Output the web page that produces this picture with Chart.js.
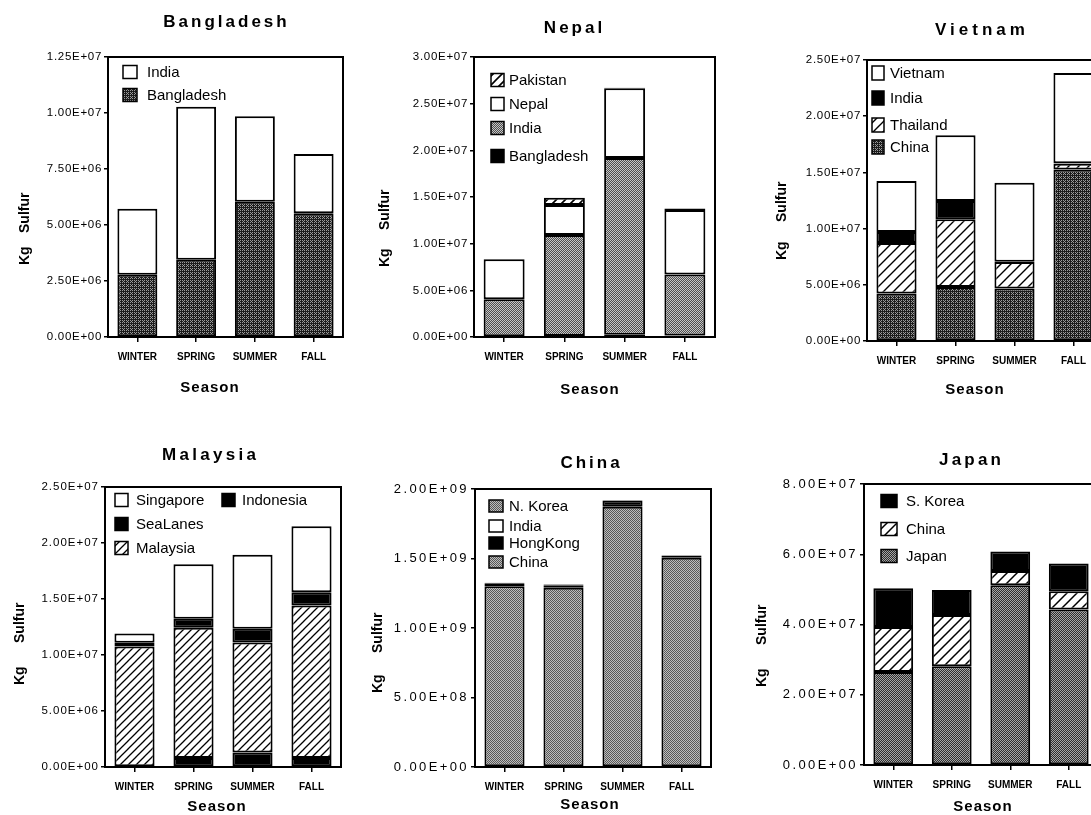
<!DOCTYPE html>
<html><head><meta charset="utf-8">
<script src="https://cdn.jsdelivr.net/npm/chart.js@4"></script>
<style>
html,body{margin:0;padding:0;background:#fff;overflow:hidden;width:1091px;height:815px;position:relative}
canvas{position:absolute}
</style></head><body>
<canvas id="c1"></canvas><canvas id="c2"></canvas><canvas id="c3"></canvas>
<canvas id="c4"></canvas><canvas id="c5"></canvas><canvas id="c6"></canvas>
<script>
// ---------- DATA ----------
const seasons = ['WINTER', 'SPRING', 'SUMMER', 'FALL'];

// Bangladesh panel (bottom -> top)
const bdBangladesh = [2.78e6, 3.45e6, 6.04e6, 5.52e6];
const bdIndia      = [2.95e6, 6.83e6, 3.81e6, 2.65e6];
const bdTicks = [0, 2.5e6, 5e6, 7.5e6, 1e7, 1.25e7];

// Nepal panel
const npBangladesh = [0, 0.10e6, 0.25e6, 0.15e6];
const npIndia      = [4.04e6, 10.83e6, 18.93e6, 6.55e6];
const npNepal      = [4.28e6, 3.22e6, 7.47e6, 6.91e6];
const npPakistan   = [0.05e6, 0.78e6, 0.05e6, 0.15e6];
const npTicks = [0, 5e6, 1e7, 1.5e7, 2e7, 2.5e7, 3e7];

// Vietnam panel
const vnChina    = [4.22e6, 4.80e6, 4.66e6, 15.25e6];
const vnThailand = [4.50e6, 6.03e6, 2.37e6, 0.53e6];
const vnIndia    = [0.98e6, 1.63e6, 0.03e6, 0.03e6];
const vnVietnam  = [4.53e6, 5.84e6, 7.03e6, 8.03e6];
const vnTicks = [0, 5e6, 1e7, 1.5e7, 2e7, 2.5e7];

// Malaysia panel
const myIndonesia = [0, 0.80e6, 1.29e6, 0.80e6];
const myMalaysia  = [10.75e6, 11.64e6, 9.83e6, 13.62e6];
const mySeaLanes  = [0.35e6, 0.80e6, 1.23e6, 1.18e6];
const mySingapore = [0.81e6, 4.86e6, 6.59e6, 5.90e6];
const myTicks = [0, 5e6, 1e7, 1.5e7, 2e7, 2.5e7];

// China panel
const cnChina    = [1.300e9, 1.290e9, 1.872e9, 1.505e9];
const cnHongKong = [0.022e9, 0.014e9, 0.045e9, 0.016e9];
const cnIndia    = [0.002e9, 0.008e9, 0.002e9, 0.002e9];
const cnNKorea   = [0.002e9, 0.002e9, 0.002e9, 0.001e9];
const cnTicks = [0, 5e8, 1e9, 1.5e9, 2e9];

// Japan panel
const jpJapan   = [26.5e6, 28.1e6, 51.2e6, 44.3e6];
const jpChina   = [12.8e6, 14.6e6, 4.0e6, 5.2e6];
const jpSKorea  = [11.0e6, 7.1e6, 5.6e6, 7.9e6];
const jpTicks = [0, 2e7, 4e7, 6e7, 8e7];

// ---------- FILLS ----------
function stipple(dark, light, mask) {
  const c = document.createElement('canvas'); c.width = c.height = 4;
  const x = c.getContext('2d');
  x.fillStyle = dark; x.fillRect(0, 0, 4, 4);
  x.fillStyle = light;
  for (let i = 0; i < 4; i++) for (let j = 0; j < 4; j++) if (mask(i, j)) x.fillRect(i, j, 1, 1);
  return x.createPattern(c, 'repeat');
}
const sparse = (i, j) => (i % 2 === 0 && j % 2 === 0) || (i === 3 && j === 1);
const checker = (i, j) => (i + j) % 2 === 0;
function hatch(s, lw) {
  const c = document.createElement('canvas'); c.width = c.height = s;
  const x = c.getContext('2d');
  x.fillStyle = '#fff'; x.fillRect(0, 0, s, s);
  x.strokeStyle = '#000'; x.lineWidth = lw; x.beginPath();
  x.moveTo(-1, s + 1); x.lineTo(s + 1, -1);
  x.moveTo(-2, 2); x.lineTo(2, -2);
  x.moveTo(s - 2, s + 2); x.lineTo(s + 2, s - 2);
  x.stroke();
  return x.createPattern(c, 'repeat');
}
const WHITE = '#ffffff', BLACK = '#000000';
const darkStip = stipple('#1c1c1c', '#9a9a9a', sparse);
const lightStip = stipple('#4e4e4e', '#c6c6c6', checker);
const midStip = stipple('#585858', '#bebebe', checker);
const japStip = stipple('#2e2e2e', '#a6a6a6', checker);

const fmtE = v => {
  let [m, e] = Number(v).toExponential(2).split('e');
  const sign = e[0] === '-' ? '-' : '+';
  e = e.replace(/[+-]/, '');
  return m + 'E' + sign + e.padStart(2, '0');
};

// ---------- PANELS (layout / style) ----------
const panels = {
  c1: { x0: 0, y0: 0, w: 360, h: 405, L: 108, R: 343, T: 57, B: 337, ticks: bdTicks,
    yFont: 11.5, yls: 0.7,
    series: [{ label: 'Bangladesh', data: bdBangladesh, fill: darkStip }, { label: 'India', data: bdIndia, fill: WHITE }],
    title: 'Bangladesh', tx: 225, ty: 22, tls: 3,
    yt: { x: 25, kg: 265, off: 32 }, season: { x: 210, y: 388 },
    leg: { bx: 123, bw: 14, bh: 13, tx: 147, rows: [['India', 72], ['Bangladesh', 95]] } },
  c2: { x0: 360, y0: 0, w: 365, h: 405, L: 474, R: 715, T: 57, B: 337, ticks: npTicks,
    yFont: 11.5, yls: 0.7,
    series: [{ label: 'Bangladesh', data: npBangladesh, fill: BLACK }, { label: 'India', data: npIndia, fill: lightStip },
             { label: 'Nepal', data: npNepal, fill: WHITE }, { label: 'Pakistan', data: npPakistan, fill: hatch(9, 1.6) }],
    title: 'Nepal', tx: 573, ty: 28, tls: 3,
    yt: { x: 385, kg: 267, off: 37 }, season: { x: 590, y: 390 },
    leg: { bx: 491, bw: 13, bh: 13, tx: 509, rows: [['Pakistan', 80], ['Nepal', 104], ['India', 128], ['Bangladesh', 156]] } },
  c3: { x0: 725, y0: 0, w: 400, h: 405, L: 867, R: 1103, T: 60, B: 341, ticks: vnTicks,
    yFont: 11.5, yls: 0.7,
    series: [{ label: 'China', data: vnChina, fill: darkStip }, { label: 'Thailand', data: vnThailand, fill: hatch(10, 1.4) },
             { label: 'India', data: vnIndia, fill: BLACK }, { label: 'Vietnam', data: vnVietnam, fill: WHITE }],
    title: 'Vietnam', tx: 980, ty: 30, tls: 4,
    yt: { x: 782, kg: 260, off: 38 }, season: { x: 975, y: 390 },
    leg: { bx: 872, bw: 12, bh: 14, tx: 890, rows: [['Vietnam', 73], ['India', 98], ['Thailand', 125], ['China', 147]] } },
  c4: { x0: 0, y0: 405, w: 360, h: 410, L: 105, R: 341, T: 487, B: 767, ticks: myTicks,
    yFont: 11.5, yls: 1,
    series: [{ label: 'Indonesia', data: myIndonesia, fill: BLACK }, { label: 'Malaysia', data: myMalaysia, fill: hatch(8, 1.3) },
             { label: 'SeaLanes', data: mySeaLanes, fill: BLACK }, { label: 'Singapore', data: mySingapore, fill: WHITE }],
    title: 'Malaysia', tx: 209, ty: 455, tls: 3.3,
    yt: { x: 20, kg: 685, off: 42 }, season: { x: 217, y: 807 },
    leg: { bx: 115, bw: 13, bh: 13, tx: 136, rows: [['Singapore', 500], ['SeaLanes', 524], ['Malaysia', 548], ['Indonesia', 500, 222, 242]] } },
  c5: { x0: 360, y0: 405, w: 365, h: 410, L: 475, R: 711, T: 489, B: 767, ticks: cnTicks,
    yFont: 13, yls: 2.4,
    series: [{ label: 'China', data: cnChina, fill: midStip }, { label: 'HongKong', data: cnHongKong, fill: BLACK },
             { label: 'India', data: cnIndia, fill: WHITE }, { label: 'N. Korea', data: cnNKorea, fill: midStip }],
    title: 'China', tx: 590, ty: 463, tls: 3,
    yt: { x: 378, kg: 693, off: 40 }, season: { x: 590, y: 805 },
    leg: { bx: 489, bw: 14, bh: 12, tx: 509, rows: [['N. Korea', 506], ['India', 526], ['HongKong', 543], ['China', 562]] } },
  c6: { x0: 725, y0: 405, w: 400, h: 410, L: 864, R: 1098, T: 484, B: 765, ticks: jpTicks,
    yFont: 13, yls: 2.4,
    series: [{ label: 'Japan', data: jpJapan, fill: japStip }, { label: 'China', data: jpChina, fill: hatch(10, 1.5) },
             { label: 'S. Korea', data: jpSKorea, fill: BLACK }],
    title: 'Japan', tx: 970, ty: 460, tls: 3.2,
    yt: { x: 762, kg: 687, off: 42 }, season: { x: 983, y: 807 },
    leg: { bx: 881, bw: 16, bh: 13, tx: 906, rows: [['S. Korea', 501], ['China', 529], ['Japan', 556]] } }
};

const FAM = "'Liberation Sans', Arial, Helvetica, sans-serif";

const decor = {
  id: 'decor',
  beforeDraw(chart) {
    const P = panels[chart.canvas.id];
    chart.ctx.letterSpacing = P.yls + 'px';
  },
  afterDatasetsDraw(chart) { chart.ctx.letterSpacing = '0px'; },
  afterDraw(chart) {
    const P = panels[chart.canvas.id];
    const ctx = chart.ctx, a = chart.chartArea;
    ctx.save();
    ctx.letterSpacing = '0px';
    // frame
    ctx.strokeStyle = '#000'; ctx.lineWidth = 2;
    ctx.strokeRect(a.left, a.top, a.right - a.left, a.bottom - a.top);
    ctx.fillStyle = '#000';
    // title
    ctx.font = 'bold 17px ' + FAM;
    ctx.letterSpacing = P.tls + 'px';
    ctx.textAlign = 'center'; ctx.textBaseline = 'middle';
    ctx.fillText(P.title, P.tx - P.x0 + P.tls / 2, P.ty - P.y0);
    // x title
    ctx.font = 'bold 15px ' + FAM;
    ctx.letterSpacing = '1px';
    ctx.fillText('Season', P.season.x - P.x0, P.season.y - P.y0);
    // y title
    ctx.letterSpacing = '0px';
    ctx.save();
    ctx.font = 'bold 14px ' + FAM;
    ctx.translate(P.yt.x - P.x0, P.yt.kg - P.y0);
    ctx.rotate(-Math.PI / 2);
    ctx.textAlign = 'left';
    ctx.fillText('Kg', 0, 0);
    ctx.fillText('Sulfur', P.yt.off, 0);
    ctx.restore();
    // legend
    ctx.font = '15px ' + FAM;
    ctx.textAlign = 'left'; ctx.textBaseline = 'middle';
    const L = P.leg;
    L.rows.forEach(r => {
      const s = P.series.find(q => q.label === r[0]);
      const bx = (r[2] !== undefined ? r[2] : L.bx) - P.x0;
      const tx = (r[3] !== undefined ? r[3] : L.tx) - P.x0;
      const y = r[1] - P.y0;
      ctx.fillStyle = s.fill;
      ctx.fillRect(bx, y - L.bh / 2, L.bw, L.bh);
      ctx.lineWidth = 1.5; ctx.strokeStyle = '#000';
      ctx.strokeRect(bx, y - L.bh / 2, L.bw, L.bh);
      ctx.fillStyle = '#000';
      ctx.fillText(s.label, tx, y + 1);
    });
    ctx.restore();
  }
};
Chart.register(decor);

Object.keys(panels).forEach(id => {
  const P = panels[id];
  const cv = document.getElementById(id);
  cv.style.left = P.x0 + 'px'; cv.style.top = P.y0 + 'px';
  cv.style.width = P.w + 'px'; cv.style.height = P.h + 'px';
  cv.width = P.w; cv.height = P.h;
  const xh = 30;
  new Chart(cv, {
    type: 'bar',
    data: {
      labels: seasons,
      datasets: P.series.map(s => ({
        label: s.label, data: s.data, backgroundColor: s.fill,
        borderColor: '#000', borderWidth: 2, borderSkipped: false,
        barPercentage: 0.68, categoryPercentage: 1
      }))
    },
    options: {
      responsive: false, animation: false, devicePixelRatio: 1,
      layout: { padding: { left: 0, top: P.T - P.y0, right: P.x0 + P.w - P.R, bottom: P.y0 + P.h - P.B - xh } },
      plugins: { legend: { display: false }, tooltip: { enabled: false }, title: { display: false } },
      scales: {
        x: {
          stacked: true,
          afterFit: s => { s.height = xh; },
          grid: { display: true, offset: false, drawOnChartArea: false, drawTicks: true, tickLength: 5, color: '#000', lineWidth: 1.5 },
          border: { display: true, color: '#000', width: 2 },
          ticks: { z: 1, color: '#000', padding: 9, autoSkip: false, maxRotation: 0, minRotation: 0,
                   font: { family: FAM, size: 10, weight: 'bold' } }
        },
        y: {
          stacked: true, min: 0, max: P.ticks[P.ticks.length - 1],
          afterFit: s => { s.width = P.L - P.x0; },
          afterBuildTicks: s => { s.ticks = P.ticks.map(v => ({ value: v })); },
          grid: { display: true, drawOnChartArea: false, drawTicks: true, tickLength: 4, color: '#000', lineWidth: 1.5 },
          border: { display: true, color: '#000', width: 2 },
          ticks: { color: '#000', padding: 2, callback: v => fmtE(v), font: { family: FAM, size: P.yFont } }
        }
      }
    }
  });
});
</script>
</body></html>
